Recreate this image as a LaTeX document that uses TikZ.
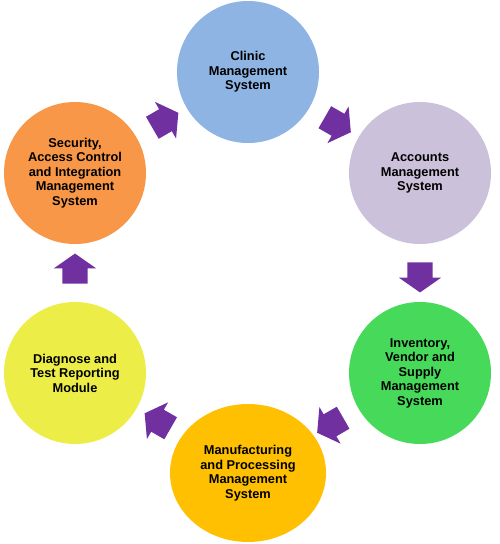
\documentclass[tikz,border=0pt]{standalone}
\usepackage{fontspec}
\setmainfont{Liberation Sans}
\usetikzlibrary{shapes.geometric, shapes.arrows, calc}
\definecolor{clinicblue}{HTML}{8EB4E3}
\definecolor{accountslilac}{HTML}{CCC1DA}
\definecolor{inventorygreen}{HTML}{47DA5A}
\definecolor{manufgold}{HTML}{FEC000}
\definecolor{diagyellow}{HTML}{EDED48}
\definecolor{securityorange}{HTML}{F79747}
\definecolor{flowpurple}{HTML}{7030A0}
\begin{document}
\begin{tikzpicture}[x = 1pt, y = -1pt,
		module/.style = {circle, minimum size = 142pt, inner sep = 0pt, align = center, font = \bfseries\fontsize{12.8}{14.5}\selectfont},
		flow/.style = {single arrow, fill = flowpurple, inner xsep = 0pt, inner ysep = 12.5pt, single arrow head extend = 8.5pt, single arrow tip angle = 110, minimum height = 30pt}]
		\useasboundingbox (0,0) rectangle (499,544);
		\node[module, fill = clinicblue] (clinic) at (248,72) {Clinic\\Management\\System};
		\node[module, fill = accountslilac] (accounts) at (420,173) {Accounts\\Management\\System};
		\node[module, fill = inventorygreen] (inventory) at (420,373) {Inventory,\\Vendor and\\Supply\\Management\\System};
		\node[module, ellipse, minimum width = 156pt, minimum height = 138pt, fill = manufgold] (manufacturing) at (248,473) {Manufacturing\\and Processing\\Management\\System};
		\node[module, fill = diagyellow] (diagnose) at (75,373) {Diagnose and\\Test Reporting\\Module};
		\node[module, fill = securityorange] (security) at (75,173) {Security,\\Access Control\\and Integration\\Management\\System};
		\foreach \from/\to/\ang in {security/clinic/30, clinic/accounts/-30, accounts/inventory/-90, inventory/manufacturing/210, manufacturing/diagnose/150, diagnose/security/90}{
			\node[flow, rotate = \ang] (\from-\to) at ($(\from)!.5!(\to)$) {};
			}
\end{tikzpicture}
\end{document}
